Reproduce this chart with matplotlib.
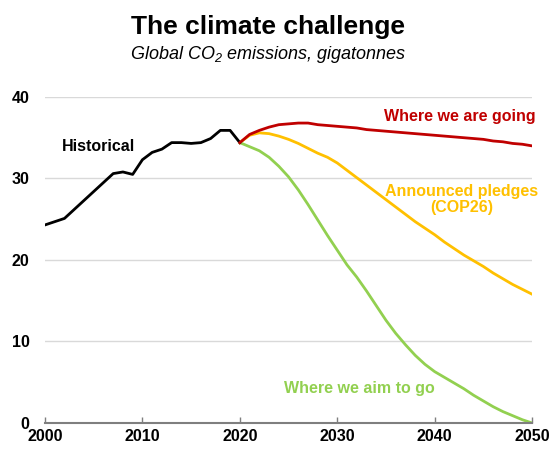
import matplotlib.pyplot as plt

# Historical CO2 emissions (Gt)
hist_years = list(range(2000, 2021))
hist_values = [24.3, 24.7, 25.1, 26.2, 27.3, 28.4, 29.5, 30.6, 30.8, 30.5,
               32.3, 33.2, 33.6, 34.4, 34.4, 34.3, 34.4, 34.9, 35.9, 35.9,
               34.4]

# Scenario projections 2020-2050
proj_years = list(range(2020, 2051))
going_values = [34.4, 35.4, 35.9, 36.3, 36.6, 36.7, 36.8, 36.8, 36.6, 36.5,
                36.4, 36.3, 36.2, 36.0, 35.9, 35.8, 35.7, 35.6, 35.5, 35.4,
                35.3, 35.2, 35.1, 35.0, 34.9, 34.8, 34.6, 34.5, 34.3, 34.2,
                34.0]
pledges_values = [34.4, 35.3, 35.6, 35.5, 35.2, 34.8, 34.3, 33.7, 33.1, 32.6,
                  31.9, 31.0, 30.1, 29.2, 28.3, 27.4, 26.5, 25.6, 24.7, 23.9,
                  23.1, 22.2, 21.4, 20.6, 19.9, 19.2, 18.4, 17.7, 17.0, 16.4,
                  15.8]
aim_values = [34.4, 33.9, 33.4, 32.6, 31.5, 30.2, 28.6, 26.8, 24.9, 23.0,
              21.2, 19.4, 17.9, 16.2, 14.4, 12.6, 11.0, 9.6, 8.3, 7.2,
              6.3, 5.6, 4.9, 4.2, 3.4, 2.7, 2.0, 1.4, 0.9, 0.4,
              0.0]

x_ticks = [2000, 2010, 2020, 2030, 2040, 2050]
y_ticks = [0, 10, 20, 30, 40]

RED = "#C00000"
YELLOW = "#FFC000"
GREEN = "#92D050"


def main() -> None:
    plt.rcParams["font.family"] = ["Liberation Sans", "DejaVu Sans"]
    plt.rcParams["mathtext.fontset"] = "custom"
    plt.rcParams["mathtext.rm"] = "Liberation Sans:italic"
    plt.rcParams["mathtext.it"] = "Liberation Sans:italic"

    fig = plt.figure(figsize=(5.52, 4.5), dpi=100)
    ax = fig.add_axes([0.0815, 0.06, 0.8825, 0.7245])

    for y in y_ticks[1:]:
        ax.axhline(y, color="#D9D9D9", lw=1.0, zorder=0)

    ax.plot(hist_years, hist_values, color="black", lw=2.0, zorder=3)
    ax.plot(proj_years, going_values, color=RED, lw=2.0, zorder=3)
    ax.plot(proj_years, pledges_values, color=YELLOW, lw=2.0, zorder=2)
    ax.plot(proj_years, aim_values, color=GREEN, lw=2.0, zorder=2)

    ax.set_xlim(2000, 2050)
    ax.set_ylim(0, 40)
    ax.set_xticks(x_ticks)
    ax.set_yticks(y_ticks)
    ax.set_xticklabels([str(x) for x in x_ticks], fontsize=11.5,
                       fontweight="bold")
    ax.set_yticklabels([str(y) for y in y_ticks], fontsize=11.5,
                       fontweight="bold")

    for side in ["top", "right", "left"]:
        ax.spines[side].set_visible(False)
    ax.spines["bottom"].set_color("#7F7F7F")
    ax.spines["bottom"].set_linewidth(1.5)
    ax.tick_params(axis="x", direction="in", length=4, width=1,
                   color="#7F7F7F", pad=4)
    ax.tick_params(axis="y", length=0, pad=11)

    ax.text(2005.5, 33.9, "Historical", fontsize=11.5, fontweight="bold",
            color="black", ha="center", va="center")
    ax.text(2042.6, 37.6, "Where we are going", fontsize=11.5,
            fontweight="bold", color=RED, ha="center", va="center")
    ax.text(2042.8, 27.4, "Announced pledges\n(COP26)", fontsize=11.5,
            fontweight="bold", color=YELLOW, ha="center", va="center",
            linespacing=1.1)
    ax.text(2032.3, 4.2, "Where we aim to go", fontsize=11.5,
            fontweight="bold", color=GREEN, ha="center", va="center")

    fig.text(0.486, 0.94, "The climate challenge", fontsize=19,
             fontweight="bold", ha="center", va="center")
    fig.text(0.486, 0.878, r"Global CO$_\mathregular{2}$ emissions, gigatonnes",
             fontsize=13, style="italic", ha="center", va="center")

    fig.savefig("out.png", dpi=100)
    plt.close(fig)


if __name__ == "__main__":
    main()
